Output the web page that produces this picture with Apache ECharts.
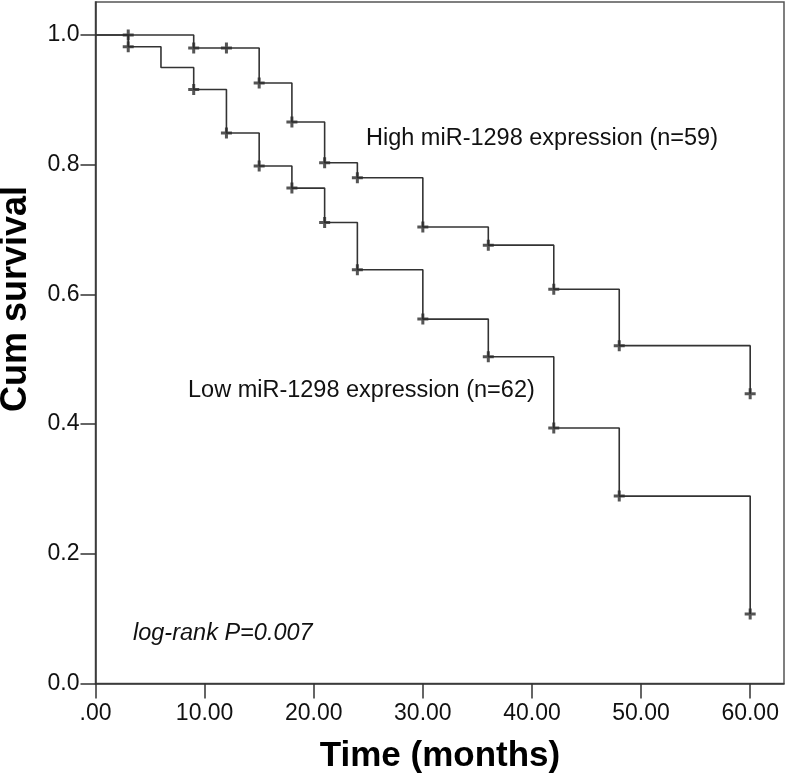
<!DOCTYPE html>
<html>
<head>
<meta charset="utf-8">
<script src="https://cdn.jsdelivr.net/npm/echarts@6/dist/echarts.min.js"></script>
<style>
html,body{margin:0;padding:0;background:#fff;}
#chart{width:787px;height:779px;}
</style>
</head>
<body>
<div id="chart"></div>
<script>
// Kaplan-Meier step data (time in months, cumulative survival)
const highTimes = [0, 9, 15, 18, 21, 24, 30, 36, 42, 48, 60];
const highSurv  = [1.0, 0.980, 0.926, 0.866, 0.803, 0.780, 0.704, 0.676, 0.608, 0.521, 0.447];
const highCensorTimes = [3, 9, 12, 15, 18, 21, 24, 30, 36, 42, 48, 60];

const lowTimes = [0, 3, 6, 9, 12, 15, 18, 21, 24, 30, 36, 42, 48, 60];
const lowSurv  = [1.0, 0.982, 0.950, 0.916, 0.849, 0.798, 0.764, 0.711, 0.638, 0.562, 0.504, 0.394, 0.289, 0.107];
const lowCensorTimes = [3, 9, 12, 15, 18, 21, 24, 30, 36, 42, 48, 60];

const xTickValues = [0, 10, 20, 30, 40, 50, 60];
const xTickLabels = ['.00', '10.00', '20.00', '30.00', '40.00', '50.00', '60.00'];
const yTickValues = [0, 0.2, 0.4, 0.6, 0.8, 1.0];
const yTickLabels = ['0.0', '0.2', '0.4', '0.6', '0.8', '1.0'];

const highLabel = 'High miR-1298 expression (n=59)';
const lowLabel = 'Low miR-1298 expression (n=62)';
const pLabel = 'log-rank P=0.007';
const xTitle = 'Time (months)';
const yTitle = 'Cum survival';

function survAt(times, surv, t) {
  let s = surv[0];
  for (let i = 0; i < times.length; i++) { if (times[i] <= t) s = surv[i]; }
  return s;
}
const pairs = (a, b) => a.map((v, i) => [v, b[i]]);
const censor = (ct, times, surv) => ct.map(t => [t, survAt(times, surv, t)]);

const FONT = '"Liberation Sans", Arial, sans-serif';
const LINE = '#333';
const plusPath = 'path://M4,0H7V4H11V7H7V11H4V7H0V4H4Z';

const chart = echarts.init(document.getElementById('chart'), null, {renderer: 'canvas'});
chart.setOption({
  animation: false,
  backgroundColor: '#fff',
  grid: {left: 95.5, right: 3, top: 2, bottom: 95.5, show: true, borderColor: '#555', borderWidth: 1.5, backgroundColor: 'transparent'},
  xAxis: {
    type: 'value', min: 0, max: 63.1,
    axisLine: {show: true, lineStyle: {color: '#333', width: 1.5}},
    axisTick: {show: true, length: 15, customValues: xTickValues, lineStyle: {color: '#333', width: 1.5}},
    axisLabel: {customValues: xTickValues, margin: 19, fontFamily: FONT, fontSize: 23, color: '#111',
      formatter: v => xTickLabels[xTickValues.indexOf(v)]},
    splitLine: {show: false}
  },
  yAxis: {
    type: 'value', min: 0, max: 1.051,
    axisLine: {show: true, lineStyle: {color: '#333', width: 1.5}},
    axisTick: {show: true, length: 15, customValues: yTickValues, lineStyle: {color: '#333', width: 1.5}},
    axisLabel: {customValues: yTickValues, margin: 16, fontFamily: FONT, fontSize: 23, color: '#111',
      formatter: v => yTickLabels[yTickValues.findIndex(t => Math.abs(t - v) < 1e-6)]},
    splitLine: {show: false}
  },
  series: [
    {type: 'line', step: 'end', data: pairs(highTimes, highSurv), showSymbol: false,
      lineStyle: {color: LINE, width: 1.6}, z: 2},
    {type: 'line', step: 'end', data: pairs(lowTimes, lowSurv), showSymbol: false,
      lineStyle: {color: LINE, width: 1.6}, z: 2},
    {type: 'scatter', data: censor(highCensorTimes, highTimes, highSurv), symbol: plusPath, symbolSize: 11,
      itemStyle: {color: '#2a2a2a'}, z: 3},
    {type: 'scatter', data: censor(lowCensorTimes, lowTimes, lowSurv), symbol: plusPath, symbolSize: 11,
      itemStyle: {color: '#2a2a2a'}, z: 3}
  ],
  graphic: [
    {type: 'text', left: 366, top: 127, style: {text: highLabel, font: '23.5px ' + FONT, fill: '#111'}},
    {type: 'text', left: 188, top: 379, style: {text: lowLabel, font: '23.5px ' + FONT, fill: '#111'}},
    {type: 'text', left: 133, top: 622, style: {text: pLabel, font: 'italic 23.5px ' + FONT, fill: '#111'}},
    {type: 'text', x: 440, y: 756, style: {text: xTitle, font: 'bold 35px ' + FONT, fill: '#000', align: 'center', verticalAlign: 'middle'}},
    {type: 'text', x: 16, y: 299, rotation: Math.PI / 2, style: {text: yTitle, font: 'bold 36px ' + FONT, fill: '#000', align: 'center', verticalAlign: 'middle'}}
  ]
});
</script>
</body>
</html>
